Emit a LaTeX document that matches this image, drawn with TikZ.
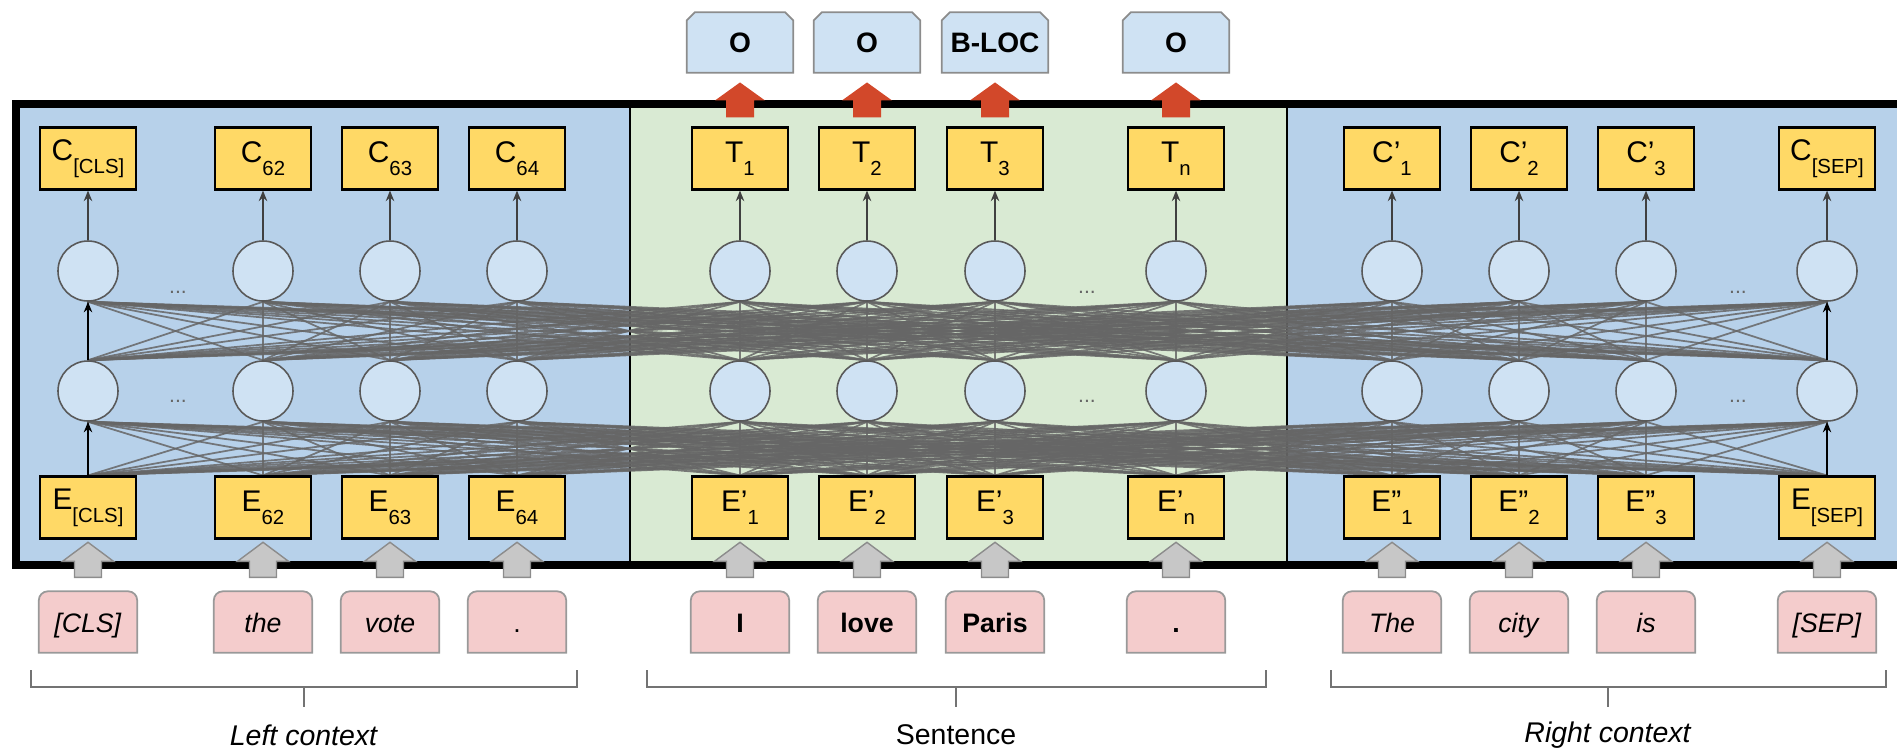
\documentclass[tikz,border=0pt]{standalone}
\usepackage{fontspec}
\setmainfont{Liberation Sans}
\usetikzlibrary{arrows.meta}

\definecolor{panelblue}{HTML}{B7D1EA}
\definecolor{panelgreen}{HTML}{D9EAD3}
\definecolor{vecyellow}{HTML}{FFD966}
\definecolor{cellblue}{HTML}{CFE2F3}
\definecolor{wordpink}{HTML}{F4CCCC}
\definecolor{tagred}{HTML}{D2482A}
\definecolor{meshgray}{HTML}{666666}

\pgfdeclarelayer{bg}
\pgfdeclarelayer{mesh}
\pgfsetlayers{bg,mesh,main}

\newcommand{\sub}[1]{\raisebox{-3.6pt}{\fontsize{5.8}{6}\selectfont #1}}

\begin{document}
\begin{tikzpicture}[
    vecbox/.style={draw, line width=0.6pt, fill=vecyellow, minimum width=0.96cm,
                   minimum height=0.62cm, inner sep=0pt, font=\fontsize{8.5}{9}\selectfont},
    neuron/.style={circle, draw=black!65, line width=0.45pt, fill=cellblue,
                   minimum size=0.6cm, inner sep=0pt},
    tagbox/.style={minimum width=1.05cm, minimum height=0.59cm,
                   inner sep=0pt, font=\bfseries\fontsize{8}{9}\selectfont},
    wordbox/.style={minimum width=0.97cm, minimum height=0.6cm, inner sep=0pt,
                    text height=1.6ex, text depth=0.45ex, font=\fontsize{7.6}{9}\selectfont},
    feed/.style={-{Stealth[length=3pt, width=2.4pt]}, line width=0.45pt},
    meshline/.style={meshgray, line width=0.5pt, opacity=0.85},
    brace/.style={black!55, line width=0.6pt},
    part/.style={font=\fontsize{8.1}{10}\selectfont},
    dots/.style={text=black!60, font=\fontsize{6}{7}\selectfont},
]
    \clip (0,0) rectangle (18.97,7.52);

    % columns: vector boxes, two layers of units, input words
    \foreach \i/\x/\ctext/\etext/\wtext in {
        1/0.88/C\sub{[CLS]}/E\sub{[CLS]}/\textit{[CLS]},
        2/2.63/C\sub{62}/E\sub{62}/\textit{the},
        3/3.90/C\sub{63}/E\sub{63}/\textit{vote},
        4/5.17/C\sub{64}/E\sub{64}/.,
        5/7.40/T\sub{1}/E’\sub{1}/\textbf{I},
        6/8.67/T\sub{2}/E’\sub{2}/\textbf{love},
        7/9.95/T\sub{3}/E’\sub{3}/\textbf{Paris},
        8/11.76/T\sub{n}/E’\sub{n}/\textbf{.},
        9/13.92/C’\sub{1}/E”\sub{1}/\textit{The},
        10/15.19/C’\sub{2}/E”\sub{2}/\textit{city},
        11/16.46/C’\sub{3}/E”\sub{3}/\textit{is},
        12/18.27/C\sub{[SEP]}/E\sub{[SEP]}/\textit{[SEP]}} {
        \node[vecbox] (c\i) at (\x, 5.935) {\ctext};
        \node[neuron] (a\i) at (\x, 4.81) {};
        \node[neuron] (b\i) at (\x, 3.61) {};
        \node[vecbox] (e\i) at (\x, 2.445) {\etext};
        \node[wordbox] (w\i) at (\x, 1.30) {\wtext};
    }

    \node[dots] (dotsa1) at (1.78, 4.60) {...};
    \node[dots] (dotsb1) at (1.78, 3.51) {...};
    \node[dots] (dotsa2) at (10.87, 4.60) {...};
    \node[dots] (dotsb2) at (10.87, 3.51) {...};
    \node[dots] (dotsa3) at (17.38, 4.60) {...};
    \node[dots] (dotsb3) at (17.38, 3.51) {...};

    % output tags
    \node[tagbox] (o5) at (7.40, 7.095) {O};
    \node[tagbox] (o6) at (8.67, 7.095) {O};
    \node[tagbox] (o7) at (9.95, 7.095) {B-LOC};
    \node[tagbox] (o8) at (11.76, 7.095) {O};

    \begin{pgfonlayer}{bg}
        \fill[panelblue] (0.16, 1.87) rectangle (19.3, 6.48);
        \fill[panelgreen] (6.30, 1.87) rectangle (12.87, 6.48);
        \draw[line width=0.4pt] (6.30, 1.87) -- (6.30, 6.48);
        \draw[line width=0.4pt] (12.87, 1.87) -- (12.87, 6.48);
        \draw[line width=0.085cm] (19.3, 1.87) -- (0.16, 1.87) -- (0.16, 6.48) -- (19.3, 6.48);
        \foreach \i in {1,...,12}
            \filldraw[fill=wordpink, draw=black!40, line width=0.5pt]
                (w\i.south west) [rounded corners=0.09cm] -- (w\i.north west)
                -- (w\i.north east) [sharp corners] -- (w\i.south east) -- cycle;
        \foreach \i in {5,...,8}
            \filldraw[fill=cellblue, draw=black!45, line width=0.5pt]
                (o\i.south west) -- ([yshift=-0.08cm]o\i.north west)
                -- ([xshift=0.08cm]o\i.north west) -- ([xshift=-0.08cm]o\i.north east)
                -- ([yshift=-0.08cm]o\i.north east) -- (o\i.south east) -- cycle;
    \end{pgfonlayer}

    % fully connected layers
    \begin{pgfonlayer}{mesh}
        \foreach \i in {1,...,12}
            \foreach \j in {1,...,12} {
                \draw[meshline] (e\i.north) -- (b\j.south);
                \draw[meshline] (b\i.north) -- (a\j.south);
            }
    \end{pgfonlayer}

    \foreach \i in {1,...,12}
        \draw[feed, black!75] (a\i.north) -- (c\i.south);
    \draw[feed] (e1.north) -- (b1.south);
    \draw[feed] (b1.north) -- (a1.south);
    \draw[feed] (e12.north) -- (b12.south);
    \draw[feed] (b12.north) -- (a12.south);

    % block arrows
    \foreach \i in {5,...,8}
        \fill[tagred] ([shift={(-0.14,0.09)}]c\i.north) -- ++(0,0.17) -- ++(-0.11,0)
            -- ++(0.25,0.18) -- ++(0.25,-0.18) -- ++(-0.11,0) -- ++(0,-0.17) -- cycle;
    \foreach \i in {1,...,12}
        \filldraw[fill=black!22, draw=black!45, line width=0.4pt]
            ([shift={(-0.135,0.14)}]w\i.north) -- ++(0,0.16) -- ++(-0.12,0)
            -- ++(0.255,0.19) -- ++(0.255,-0.19) -- ++(-0.12,0) -- ++(0,-0.16) -- cycle;

    % brackets
    \draw[brace] (0.31, 0.82) -- (0.31, 0.65) -- (5.77, 0.65) -- (5.77, 0.82);
    \draw[brace] (3.04, 0.65) -- (3.04, 0.45);
    \node[part] (left) at (3.04, 0.17) {\textit{Left context}};
    \draw[brace] (6.47, 0.82) -- (6.47, 0.65) -- (12.66, 0.65) -- (12.66, 0.82);
    \draw[brace] (9.56, 0.65) -- (9.56, 0.45);
    \node[part] (sentence) at (9.56, 0.17) {Sentence};
    \draw[brace] (13.31, 0.82) -- (13.31, 0.65) -- (18.86, 0.65) -- (18.86, 0.82);
    \draw[brace] (16.08, 0.65) -- (16.08, 0.45);
    \node[part] (right) at (16.08, 0.17) {\textit{Right context}};
\end{tikzpicture}
\end{document}
